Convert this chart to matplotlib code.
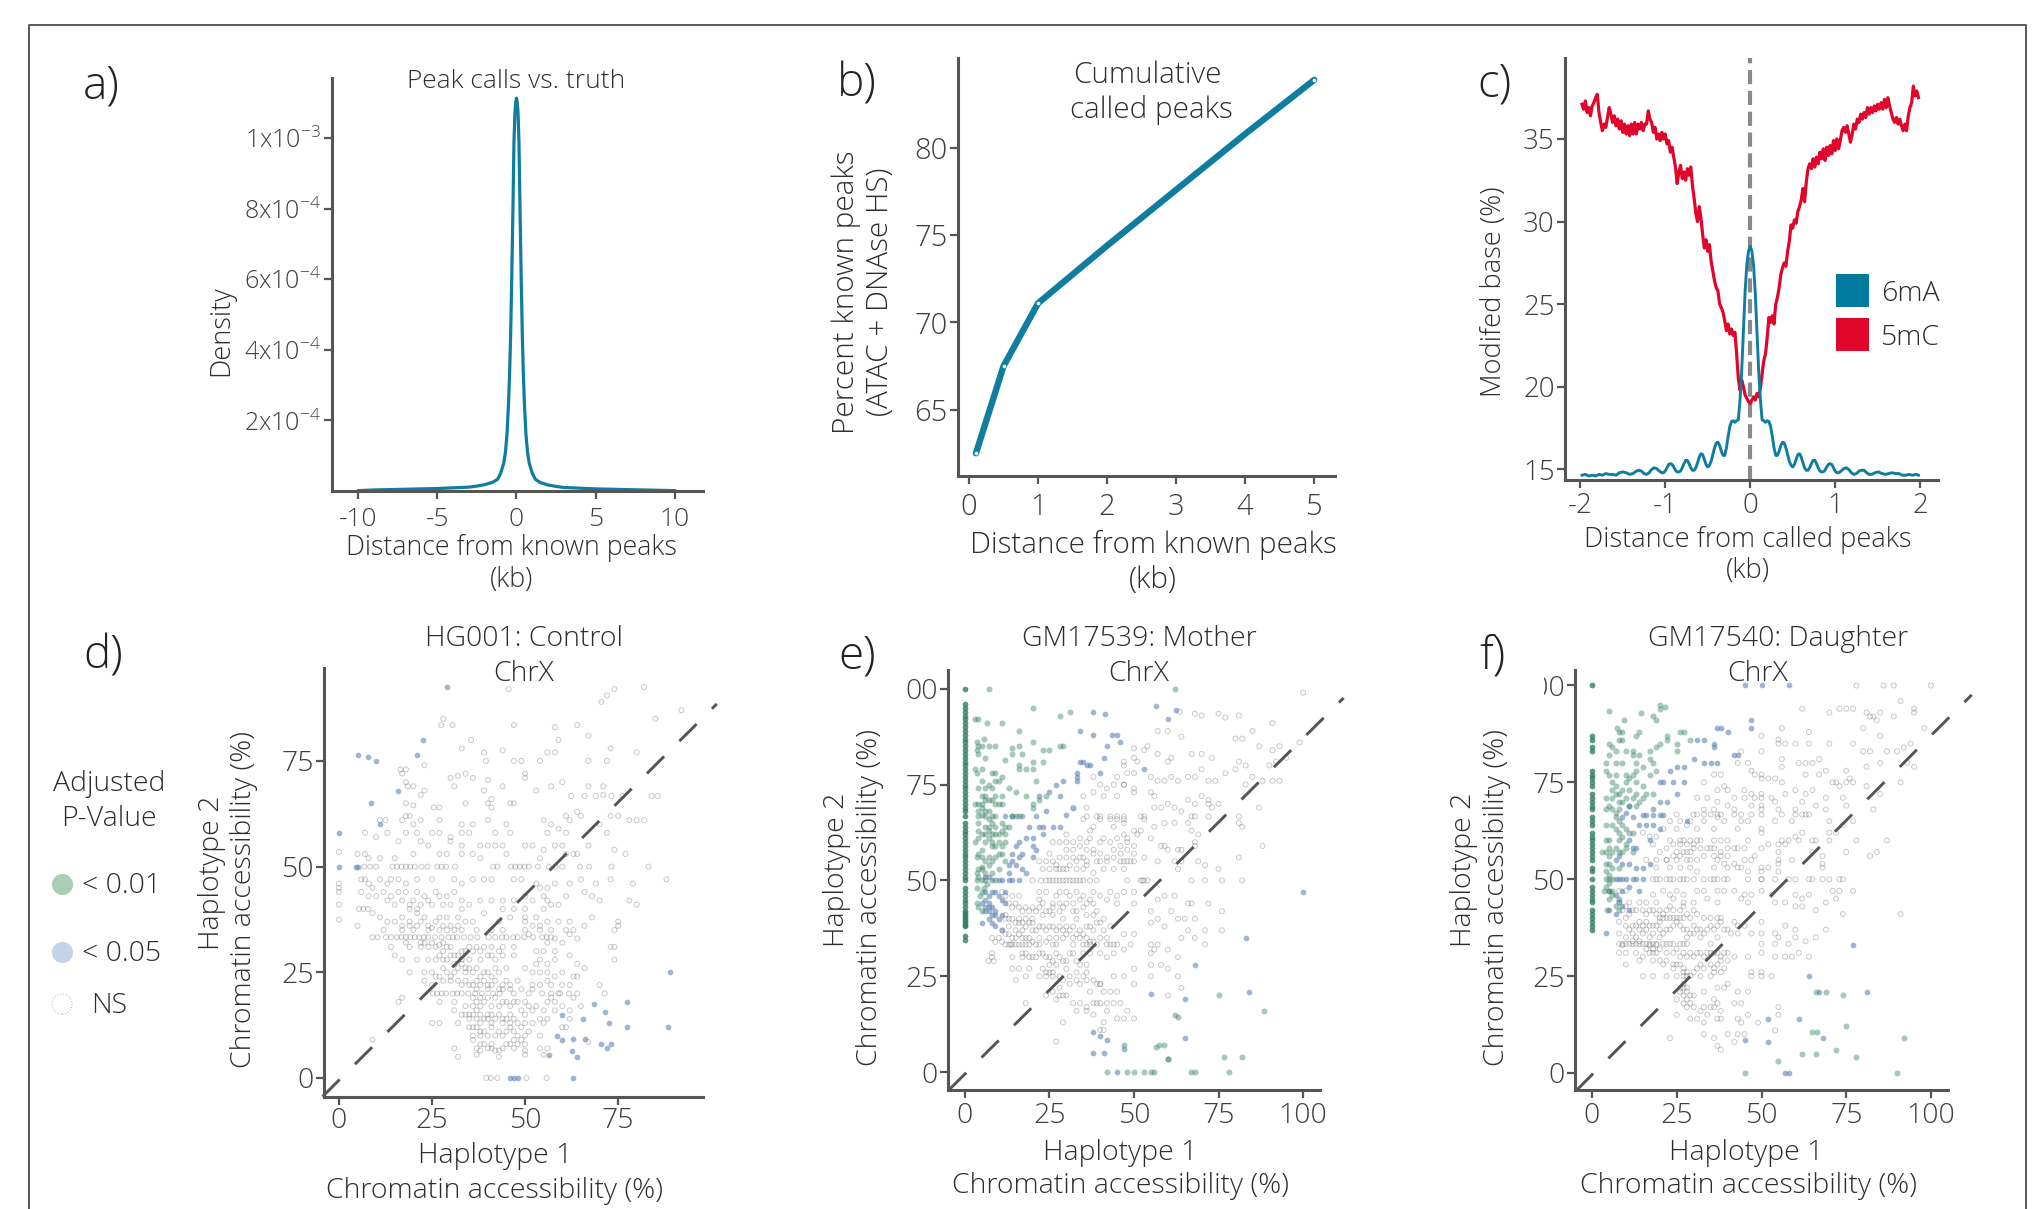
'''
plot.py
Peak calling summary panels and haplotype accessibility scatters
'''

# IMPORTS
import numpy as np
import matplotlib
matplotlib.use('Agg')
import matplotlib.pyplot as plt
from matplotlib.patches import Rectangle

# DATA
# a) density of distance to known peaks
a_x = [-10,-9,-8,-7,-6,-5,-4,-3,-2.5,-2,-1.5,-1.2,-1,-.8,-.7,-.6,-.5,-.43,-.37,-.3,-.22,-.16,-.1,-.05,0,
       .05,.1,.16,.22,.3,.37,.43,.5,.6,.7,.8,1,1.2,1.5,2,2.5,3,4,5,6,7,8,9,10]
a_y = [1,3,4,5,6,7,9,11,14,18,25,33,50,80,110,160,250,340,440,600,810,985,1070,1100,1113,
       1100,1070,985,810,600,440,340,250,160,110,80,50,33,24,17,13,10,8,6,5,4,3,2,1]
a_yticks = [200e-6, 400e-6, 600e-6, 800e-6, 1000e-6]
a_yticklabels = ['2x10$^{\\mathregular{-4}}$', '4x10$^{\\mathregular{-4}}$', '6x10$^{\\mathregular{-4}}$',
                 '8x10$^{\\mathregular{-4}}$', '1x10$^{\\mathregular{-3}}$']

# b) cumulative called peaks
b_x = [0.1, 0.5, 1, 2, 3, 4, 5]
b_y = [62.5, 67.5, 71.1, 74.4, 77.6, 80.8, 83.9]
b_dots_x = [0.1, 0.5, 1, 5]
b_dots_y = [62.5, 67.5, 71.1, 83.9]

# c) modified base around called peaks
c_5mc_x = [-1.98,-1.96,-1.94,-1.92,-1.90,-1.88,-1.86,-1.84,-1.82,-1.80,
           -1.78,-1.76,-1.74,-1.72,-1.70,-1.68,-1.66,-1.64,-1.62,-1.60,
           -1.58,-1.56,-1.54,-1.52,-1.50,-1.48,-1.46,-1.44,-1.42,-1.40,
           -1.38,-1.36,-1.34,-1.32,-1.30,-1.28,-1.26,-1.24,-1.22,-1.20,
           -1.18,-1.16,-1.14,-1.12,-1.10,-1.08,-1.06,-1.04,-1.02,-1.00,
           -.98,-.96,-.94,-.92,-.90,-.88,-.86,-.84,-.82,-.80,
           -.78,-.76,-.74,-.72,-.70,-.68,-.66,-.64,-.62,-.60,
           -.58,-.56,-.54,-.52,-.50,-.48,-.46,-.44,-.42,-.40,
           -.38,-.36,-.34,-.32,-.30,-.28,-.26,-.24,-.22,-.20,
           -.18,-.16,-.14,-.12,-.10,-.08,-.06,-.04,-.02,0,
           .02,.04,.06,.08,.10,.12,.14,.16,.18,.20,
           .22,.24,.26,.28,.30,.32,.34,.36,.38,.40,
           .42,.44,.46,.48,.50,.52,.54,.56,.58,.60,
           .62,.64,.66,.68,.70,.72,.74,.76,.78,.80,
           .82,.84,.86,.88,.90,.92,.94,.96,.98,1.00,
           1.02,1.04,1.06,1.08,1.10,1.12,1.14,1.16,1.18,1.20,
           1.22,1.24,1.26,1.28,1.30,1.32,1.34,1.36,1.38,1.40,
           1.42,1.44,1.46,1.48,1.50,1.52,1.54,1.56,1.58,1.60,
           1.62,1.64,1.66,1.68,1.70,1.72,1.74,1.76,1.78,1.80,
           1.82,1.84,1.86,1.88,1.90,1.92,1.94,1.96,1.98]
c_5mc_y = [37.1,36.8,37.3,36.6,36.9,36.4,37.0,37.2,37.5,37.7,
           36.6,36.0,35.5,35.9,35.7,36.3,36.9,36.5,36.0,36.4,
           35.8,36.2,35.6,36.1,35.4,35.9,35.3,35.8,35.2,35.9,
           35.3,36.0,35.3,35.9,35.6,36.0,35.5,35.9,35.9,36.7,
           36.2,36.0,35.4,35.7,35.0,35.3,34.9,35.4,35.0,35.3,
           34.7,34.9,34.2,34.5,33.9,33.3,32.3,33.0,33.4,32.6,
           33.0,32.5,33.2,32.8,33.3,32.2,31.4,30.5,30.0,30.9,
           30.2,29.2,28.4,28.9,28.2,28.6,27.6,27.0,26.4,26.0,
           25.8,25.0,24.8,24.5,24.0,23.4,23.8,23.2,23.5,23.1,
           23.3,22.0,20.5,19.8,20.4,20.0,19.5,19.3,19.1,19.0,
           19.2,19.4,19.2,19.6,19.4,19.9,20.8,21.6,22.0,23.0,
           24.2,23.9,24.3,23.8,25.0,25.4,26.0,26.8,27.2,27.5,
           27.3,28.2,28.8,29.8,29.6,30.1,29.9,30.6,30.9,31.3,
           32.0,31.2,32.4,33.2,33.5,33.2,33.8,33.3,33.9,33.5,
           34.2,33.8,34.4,33.7,34.5,34.0,34.6,34.1,34.9,34.3,
           35.0,34.4,34.9,35.5,35.7,35.4,35.8,35.3,34.8,35.3,
           35.9,35.6,36.2,36.0,36.5,36.2,36.6,36.3,36.9,36.5,
           36.9,36.6,37.0,36.7,37.1,36.8,37.2,36.8,37.4,36.9,
           37.5,37.0,36.6,36.2,36.0,36.3,35.9,36.2,35.8,35.5,
           35.9,35.5,36.4,36.9,37.2,38.2,37.6,37.9,37.5]
c_6ma = [(-1.98,14.65),(-1.94,14.7),(-1.9,14.6),(-1.86,14.65),(-1.82,14.6),(-1.78,14.7),(-1.74,14.65),(-1.7,14.75),(-1.66,14.7),
         (-1.62,14.7),(-1.58,14.65),(-1.54,14.8),(-1.5,14.85),(-1.46,14.8),(-1.42,14.7),(-1.38,14.75),(-1.34,14.9),(-1.31,14.95),
         (-1.28,14.9),(-1.25,14.75),(-1.22,14.7),(-1.19,14.8),(-1.16,15.0),(-1.13,15.1),(-1.1,15.05),(-1.07,14.9),(-1.04,14.8),
         (-1.02,14.8),(-1.0,14.9),(-.98,15.1),(-.96,15.3),(-.94,15.35),(-.92,15.3),(-.9,15.15),(-.88,14.95),(-.86,14.85),(-.84,14.85),
         (-.82,14.9),(-.8,15.1),(-.78,15.35),(-.76,15.55),(-.74,15.55),(-.72,15.35),(-.7,15.1),(-.68,14.95),(-.66,14.95),(-.64,15.1),
         (-.62,15.4),(-.6,15.75),(-.58,15.95),(-.56,15.9),(-.54,15.6),(-.52,15.3),(-.5,15.15),(-.48,15.25),(-.46,15.5),(-.44,15.9),
         (-.42,16.3),(-.4,16.6),(-.38,16.65),(-.36,16.45),(-.34,16.1),(-.32,15.85),(-.3,15.85),(-.28,16.3),(-.26,17.0),(-.24,17.6),
         (-.22,17.9),(-.2,17.95),(-.18,17.85),(-.16,17.95),(-.14,18.0),(-.12,19.2),(-.1,21.0),(-.08,23.4),(-.06,25.8),(-.04,27.4),
         (-.02,28.2),(0,28.5),(.02,28.2),(.04,27.3),(.06,25.6),(.08,23.2),(.1,20.9),(.12,19.2),(.14,18.0),(.16,17.95),(.18,17.85),
         (.2,17.95),(.22,17.9),(.24,17.6),(.26,17.0),(.28,16.3),(.3,15.85),(.32,15.85),(.34,16.1),(.36,16.45),(.38,16.65),(.4,16.6),
         (.42,16.3),(.44,15.9),(.46,15.5),(.48,15.25),(.5,15.15),(.52,15.3),(.54,15.6),(.56,15.9),(.58,15.95),(.6,15.75),(.62,15.4),
         (.64,15.1),(.66,14.95),(.68,14.95),(.7,15.1),(.72,15.35),(.74,15.55),(.76,15.55),(.78,15.35),(.8,15.1),(.82,14.9),(.84,14.85),
         (.86,14.85),(.88,14.95),(.9,15.15),(.92,15.3),(.94,15.35),(.96,15.3),(.98,15.1),(1.0,14.9),(1.02,14.8),(1.04,14.8),(1.07,14.9),
         (1.1,15.05),(1.13,15.1),(1.16,15.0),(1.19,14.8),(1.22,14.7),(1.25,14.75),(1.28,14.9),(1.31,14.95),(1.34,14.95),(1.37,14.8),
         (1.4,14.7),(1.43,14.7),(1.47,14.8),(1.51,14.85),(1.55,14.75),(1.59,14.7),(1.63,14.75),(1.67,14.8),(1.71,14.75),(1.75,14.75),
         (1.79,14.65),(1.83,14.65),(1.87,14.7),(1.91,14.65),(1.95,14.7),(1.98,14.65)]

# d) HG001 points, rows first because counts give repeated levels
d_rows_y = [50, 33.3, 20, 66.7, 0, 40]
d_rows_x = [[6.8,8.4,10,14.4,15.6,16.8,18,19.2,20.4,22.2,23.8,26.4,27.6,28.8,31.2,41.4,42.6,46.2,47.4,48.6,49.8,51,53.4,56.4,58.2,60,64.8,67.2,73.2,83.2],
            [9,10.4,12.6,14,15.6,16.8,18,19.2,20.4,21.6,22.8,24,25.8,27.6,29.4,30.6,31.8,33.6,35.4,37.2,40.2,42,43.8,45,46.8,48,49.8,52.2,54.6,55.8,57],
            [25.2,26.4,27.6,28.8,30.6,31.8,33,34.8,36.6,38.4,41.4,43.2,54.6,57,59.4,61.8,71.4],
            [62.4,66,69,73.2,76.2,84,85.6],
            [39.6,40.8,42.6,50.4,55.8],
            [5.4,6.6,7.8,19,21,33,44,47,50]]
d_ns = [(45.6,92),(70.5,89),(72,90.5),(74,92),(82,92.5),(92,87),(85,85),(28,85),(27.5,83.5),(30.5,83.5),(47,83.5),(64,83.5),
        (58,83),(35.5,80),(59,80),(67,81),(18,70),(17,72),(33,78),(39,77),(44,77.5),(39.5,75),(47,75),(49,75),(54,75),(67,75),
        (72,75),(73,78),(80,77),(56,77),(58,77),(23,74),(16.5,73),(18,73),(18.5,69),(20,69),(23,68),(30,71),(32,71.5),(34,72),
        (36,71),(40,70.5),(50,72),(50,71),(53,68),(57,69),(67,69),(71,69),(71,67),(60,70),(44,69),(39,68),(31,69),(22,67),
        (18,65),(20,64.5),(25.5,64),(27,64),(34,65),(40,65),(41,64),(41,66),(46,65),(47,65),(61,62),(64,63),(73,62),(75,62),
        (78,61),(80,61),(82,61),(11,61),(12.5,61),(17,61),(18,62),(19,62),(22,61),(27,61),(33,60),(36,60),(40,61),(45,60),
        (55,61),(57,60),(62,61),(65,62),(70,60),(13,58),(18,58),(20,60),(21,58),(25,58),(27,58),(30,57),(33,58),(35,58),
        (42,58),(46,58),(56,58),(59,59),(61,58),(72,58),(7,58),(10,57),(16,56),(22,56),(24,55),(30,56),(33,55),(38,55),
        (40,55),(42,55),(44,55),(50,55),(52,55),(55,54),(58,55),(60,55),(64,53),(67,55),(74,54),(77,53),(0,53.5),(5,53),
        (7,53),(8,52),(11,52),(15,52),(20,53),(27,53),(29,53),(33,53),(36,53),(38,52),(45,53),(54,52),(61,53),(63,53),(0,46),
        (0,45),(0,44),(0,41),(0,37.5),(6,47),(7,47),(8,46),(9,45),(11,47),(13,46),(14,47),(16,47),(18,46),(21,47),(25,47),
        (31,47),(33,46),(36,47),(39,47),(41,47),(47,47),(49,47),(53,46),(58,46),(62,46),(65,47),(69,46),(73,47),(79,46),(88,47),
        (6,44),(8,43),(10,43),(13,42),(15,41),(18,44),(21,44),(22,41),(24,42),(27,43),(31,44),(33,42),(35,41),(38,42),(41,42),
        (44,42),(47,42),(50,43),(55,43),(56,42),(61,43),(66,44),(68,43),(70,42),(78,42),(80,41),(9,39),(11,38),(13,37),(15,37),
        (17,38),(19,37),(21,39),(23,38),(26,37),(29,38),(32,38),(36,37),(39,39),(43,37),(46,38),(50,38),(50,37),(54,36),(56,37),
        (59,37),(62,37),(66,36),(68,38),(75,37),(75,36),(74,35),(5,36),(12,35),(17,35),(20,35),(24,35),(27,35),(29,35),(33,35),
        (37,35),(41,35),(44,35),(54,35),(57,35),(61,35),(63,35),(14,31),(18,32),(19,31),(22,31),(26,31),(28,30),(30,31),(33,30),
        (35,31),(39,31),(43,30),(47,31),(53,30),(58,30),(62,29),(74,31),(73,31),(15,29),(17,28),(21,28),(24,28),(28,28),(31,27),
        (35,28),(38,28),(41,29),(44,29),(47,29),(53,27),(56,27),(58,28),(64,27),(74,28),(19,25),(23,25),(25,25),(29,25),(34,25),
        (36,25),(39,25),(43,25),(54,25),(56,25),(60,25),(64,24),(66,26),(23,23),(25,22),(30,23),(32,23),(35,22),(39,23),(42,23),
        (45,23),(48,23),(52,22),(54,22),(57,22),(63,24),(70,22),(37,21),(40,21),(44,21),(46,21),(17,19),(16,18),(27,18),(31,18),
        (34,17),(36,17),(38,17),(41,17),(44,18),(50,18),(53,17),(55,16),(58,16),(62,16),(31,16),(33,15),(35,15),(37,14),(40,15),
        (43,15),(46,15),(50,15),(54,14),(56,14),(62,14),(25,13),(27,13),(32,13),(35,12),(38,13),(41,13),(44,13),(46,13),(48,13),
        (52,13),(55,13),(60,12),(61,12),(36,10),(38,11),(41,12),(45,11),(48,10),(54,10),(9,9),(36,9),(38,8),(41,8),(46,8),(48,8),
        (50,8),(67,8.5),(31,7),(37,7),(38,6.5),(42,6.5),(43,6.5),(47,7),(50,6.5),(50,5.5),(54,7),(56,7),(32,5),(37,5.5),(43,5),(55,5.5),
        (12,44),(14,43),(16,44),(17,42),(19,41),(20,42),(23,43),(25,41),(26,44),(28,41),(29,43),(30,41),(17,36),(19,36),(21,36),(22,37),
        (24,36),(25,35.5),(27,38),(28,36),(30,36),(31,35),(32,36),(34,37),(22,32),(23,32),(24,31),(25,32),(27,31.5),(28,32),(29,31),(31,29),
        (32,29),(33,28),(34,30),(36,30),(37,31),(38,30),(40,29),(41,31),(42,28),(44,31),(26,28),(27,29),(28,26),(29,28),(30,29),(32,26),
        (33,27),(34,26),(35,26),(37,26),(38,24),(40,25),(41,24),(42,26),(45,26),(26,24),(27,24),(28,23),(30,24),(31,25),(33,22),(34,23),
        (36,22),(37,23),(38,22),(40,22),(41,22),(43,21),(44,22),(46,22),(47,20),(49,21),(51,20),(52,21),(36,19),(37,18),(38,19),(39,18),
        (40,19),(42,19),(43,17),(45,18),(46,17),(47,18),(48,18),(49,16),(51,17),(52,16),(34,15),(35,14),(36,15),(37,16),(38,15),(39,14),
        (40,14),(41,15),(42,14),(44,14),(45,14),(46,12),(47,14),(49,12),(50,13),(36,12),(37,12),(38,10),(39,11),(40,10),(42,10),(43,11),
        (44,10),(47,11),(49,9),(50,10),(39,8),(40,7),(41,7),(44,7),(45,8),(47,9),(51,11),(56,18),(57,19),(58,18),(59,20),(60,17),(63,19),
        (65,17),(56,23),(58,24),(60,22),(62,22),(64,20),(50,26),(52,25),(54,28),(55,30),(56,32),(58,33),(60,32),(62,34),(64,33),(50,35),
        (51,34),(52,36),(53,38),(55,40),(57,41),(59,41),(52,42),(54,45),(56,45)]
d_sig05 = [(29,92.5),(22.5,80),(5,76.5),(7.8,76),(10,75),(21,76.5),(16,68),(8.5,65),(11,60),(0,58),(0,50),(4.5,50),(5,50),
           (89,25),(68.5,17.5),(77.5,18),(71.5,15.5),(60,15),(65.5,14),(72.5,13),(77.5,12),(88.5,12),(58.5,10),(60,9),(63,9.3),
           (66,9.3),(62.5,6.5),(70.5,8),(72,7),(73,8),(56.5,5.5),(64,5),(46,0),(47,0),(48,0),(63,0)]

# e) GM17539 points
e_col0_y = [34.5,35.5,38,38.5,39,39.5,40,40.5,41,41.5,42,43,44,45,46,47,48,50,51,52,53,54,55,56,57,58,59,60,61,62,63,64,65,66.7,68,69,
            70,71,72,73,74,75,76,77,78,79,80,81,82,83,84,85,86,87,88,89,90,91,92,93,94,95,96,100]
e_rows_y = [50, 33.3, 66.7]
e_rows_x = [[20,22.5,24,25,26,27,28,29,30,31,32,33,34,35,37,39,48,52,52.5,53,54,67,71,76,82],
            [12,13,13.5,14,15,16,17,18,19,21,22,26,27,32,35,36,37,39,42,43,44,45,49,55,57,71],
            [36,39,40,43,45,47,52,53,67,68,72,81]]
e_ns = [(100,99),(68,93.5),(63.5,94),(70,93),(75,93.5),(77,92.5),(81,93),(91,91),(60,89),(57,89),(85,89),(82,87),(80,87),(64,87.5),
        (99,86),(50,84.5),(53,84),(54,85),(57,83),(61,82),(91,84),(87,85),(93,85),(95,82),(67,83),(70,83),(73,82),(81,81),(83,80),
        (50,82),(47,81),(47,80),(51,81),(60,81),(90,80),(92,81),(80,79),(77,78),(70,79),(50,78),(48,78),(47,75),(38,77),(40,75),
        (45,77),(55,77),(57,76),(59,76),(61,77),(63,76),(66,77),(68,77),(72,76),(74,76),(83,75),(85,77),(88,76),(91,76),(93,76),
        (42,74),(44,75),(47,75),(50,74),(50,73),(55,73),(56,72),(38,73),(41,72),(45,72),(35,72),(70,72),(72,71),(66,71),(73,69),
        (75,70),(87,69),(32,69),(36,69),(56,69),(58,69),(60,70),(62,69),(64,68),(68,70),(72,70),(35,66),(40,66),(43,66),(45,66),
        (47,66),(53,66),(59,65),(62,65),(66,65),(81,65),(82,64),(44,64),(47,65),(50,63),(52,63),(56,64),(30,62),(37,63),(38,64),
        (34,61),(37,61),(41,61),(45,61),(48,61),(51,62),(55,61),(67,63),(69,62),(32,60),(30,60),(36,60),(40,60),(43,60),(46,59),
        (50,59),(50,57),(50,55),(58,59),(59,59),(60,58),(63,58),(64,58),(68,60),(68,59),(88,59),(25,57),(28,56),(30,56),(33,55),
        (36,55),(39,55),(42,55),(47,55),(49,55),(53,56),(57,55),(62,55),(64,55),(69,55),(71,54),(81,56),(23,53),(25,53),(27,53),
        (29,53),(33,53),(35,53),(38,52),(41,53),(44,53),(47,53),(63,53),(75,53),(47,47),(50,47),(22,47),(24,47),(28,47),(30,47),
        (33,47),(38,47),(40,46),(43,47),(45,46),(57,45),(59,46),(62,46),(66,44),(67,44),(72,44),(14,46),(16,46),(22,45),(26,43),
        (28,44),(32,44),(35,43),(39,42),(42,45),(45,44),(50,44),(55,42),(61,42),(76,42),(12,41),(14,40),(16,40),(18,40),(20,40),
        (23,41),(26,41),(29,40),(33,40),(36,41),(38,41),(41,40),(55,39),(57,40),(63,40),(65,40),(68,40),(13,38),(15,37),(17,37),
        (20,37),(24,37),(27,37),(29,37),(32,38),(35,36),(38,37),(41,37),(43,38),(47,36),(50,36),(59,38),(66,37),(71,37),(76,37),
        (8,35),(9,34),(14,35),(18,35),(22,35),(25,35),(36,35),(40,35),(42,35),(64,35),(68,35),(8,31),(8,30),(7,29),(8.5,29),
        (14,30),(17,30),(20,30),(23,31),(27,31),(31,31),(32,31),(35,31),(47,32),(56,32),(55,31),(60,32),(63,30),(14,27),(16,27),
        (19,27),(23,27),(25,28),(27,28),(30,27),(34,28),(36,28),(50,27),(55,28),(58,28),(60,27),(15,24),(18,25),(22,25),(24,25),
        (26,25),(33,24),(36,24),(40,23),(44,25),(47,25),(50,23),(55,25),(63,25),(64,22),(28,22),(31,23),(34,23),(37,21),(40,23),
        (45,21),(24,20),(27,19),(29,20),(42,18),(40,18),(44,18),(46,18),(60,20),(18,18),(33,16),(36,17),(38,15),(42,16),(48,16),
        (45,14),(47,14),(50,14),(29,13),(41,13),(40,11),(41,11),(27,8),
        (11,47),(12,46),(13,44),(14,43),(15,44),(16,43),(17,42),(18,43),(19,42),(20,43),(21,42),(22,43),(23,44),(24,42),(25,42),(26,44),
        (27,46),(28,42),(29,43),(30,44),(31,46),(32,42),(33,42),(34,45),(35,46),(36,44),(37,45),(38,44),(12,40),(13,40),(15,39),(16,39),
        (17,39),(18,38),(19,39),(20,39),(21,37),(22,38),(23,38),(25,38),(26,38),(28,38),(30,38),(31,37),(33,36),(34,37),(36,38),(37,38),
        (39,39),(40,39),(11,37),(12,36),(10,35),(11,34),(13,36),(15,35),(16,36),(17,35),(19,35),(20,34),(24,34),(27,35),(29,35),(30,36),
        (32,35),(34,35),(37,34),(38,34),(17,31),(18,31),(19,30),(21,30),(22,31),(24,30),(25,30),(26,29),(28,30),(29,29),(30,29),(33,29),
        (37,31),(40,31),(42,30),(44,31),(24,26),(25,26),(26,26),(28,25),(29,24),(31,25),(33,26),(35,25),(36,26),(38,24),(39,23),(41,21),
        (43,21),(26,21),(28,20),(30,20),(32,18),(34,18),(36,16),(38,18),(39,18),(22,55),(24,55),(26,55),(27,54),(28,53),(30,53),(31,54),
        (32,56),(34,56),(35,56),(36,54),(38,57),(40,55),(42,56),(44,56),(46,55),(48,55),(26,60),(28,60),(30,58),(32,58),(34,59),(36,58),
        (38,58),(40,57),(44,58),(46,57),(48,58),(48,60),(47,62)]
e_sig01 = [(7,100),(62,100),(20,95),(28,93),(31,94),(3,92),(4,92),(11,91),(6.5,91),(16,89),(20,86),(5.5,87),(3.5,86),(4,85),(5,85),
           (7,85),(9,85),(14,84.5),(16,85),(3.5,84),(14,83),(17,83),(23,84),(25,84),(28,85),(29,85),(4,83),(6,82),(12,81.5),(16,80),
           (20,81),(23,81),(3,79),(5,79),(8,78),(16,79),(18,79),(20,79),(3.5,78),(9,78),(11,77),(5,76),(10,76),(21,76),(7,75),(13,74),
           (5,72),(6,72),(9,72),(11,72),(15,73),(18,72),(20,69),(24,72),(22,71),(5,69),(6,68),(7,68),(10,70),(11,70),(20,70),(4,66.7),
           (6,66.7),(8,66.7),(9,66.7),(14,66.7),(15,66.7),(16,66.7),(4,65),(6,64),(7,64),(9,64),(11,65),(4,63),(7,63),(8,62),(12,62),
           (6,60),(8,60),(12,60),(5,58),(11,59),(4,57),(10,57),(3.5,56),(5,56),(9,56),(12,55),(4,53),(5,53),(6,52),(3.5,52),(8,52),
           (10,53),(3.5,50),(5,50),(6,50),(9,50),(3.5,48),(5,47),(4,43),(5,42),(60,3.5),(62,15),(63,14.5),(75,20),(88.5,16),(56.5,6.5),
           (57.5,7),(59,7),(60,3.5),(76.5,4),(82,4),(42,0),(48,0),(50,0),(53,0),(55,0),(56,0),(67,0),(68,0),(78,0),(47,7),
           (3,60),(4,61),(5,62),(6,62),(7,61),(8,59),(9,59),(10,60),(11,57),(7,56),(6,55),(8,55),(7,54),(5,53.5),(4,51),(3.5,44),(4.5,46),
           (5.5,48),(6.5,49),(3,70),(4,70),(5,70),(6,71),(7,71),(8,71),(9,70),(4,74),(6,74),(8,74),(9,76),(4,68),(5,67),(7,66),(8,65),
           (9,62),(10,62),(11,63),(12,64),(13,64)]
e_sig05 = [(56.5,95.5),(62.5,94.5),(38,94),(41.5,93.5),(60,92),(38,88),(34,89),(43.5,88),(45,88),(46,86),(42,85),(41,82),(35,81),
           (34,81),(36,80),(37,80),(53,79),(33,78),(33,77),(33,76),(40,78),(29,76),(27,75),(22,72),(25,73),(28,72),(32,69),(24,68),
           (21,66.7),(17,66.7),(14,66.7),(12,66.7),(19,64),(23,64),(23,62),(26,64),(28,64),(30,67),(15,59),(17,57),(20,59),(21,58),
           (20,56),(14,57),(16,56),(13,54),(15,54),(17,53),(18,52),(6,51),(7,51),(8,50),(10,50),(11,50),(13,50),(14,50),(16,50),(6,47),
           (7,46),(8,47),(6,45),(7,44),(9,47),(10,46),(11,45),(5,44),(6,43),(7,42),(9,41),(11,41),(5,39),(9,38),(11,37),(100,47),(83,35),
           (68,28),(84,21),(55,20.5),(65,19),(40,9.5),(42,8.5),(38,10.5),(47,6),(65,9),(38,5),(41,5),(45,0),
           (6,42),(7,43),(8,43),(8,41),(9,42),(10,40),(7,40),(8,39),(12,44),(12,47),(13,52),(14,55),(16,60),(18,61),(20,61),(22,64)]

# f) GM17540 points
f_col0_y = [37,38,39,40,41,42,44,45,46,47,48,50,52,53,55,56,57,58,59,60,61,62,64,65,66,68,69,70,71,72,74,75,76,77,78,83,84,86,87,100]
f_rows_y = [50, 33.3, 66.7, 40]
f_rows_x = [[18,19,20,22,23,24,26,27,28,30,33,35,36,37,39,40,46,50,50,54,58,60,64,65,68,70,73,74],
            [8,9,10,11,12,13,14,15,16,17,18,19,21,22,23,24,26,27,28,35,50,54,58],
            [25,30,31,33,35,37,38,42,44,47,50,56,60,62,63,64],
            [20,21,22,23,24,25,26,27,33,35,37,38]]
f_ns = [(100,100),(78,100),(86,100),(89,100),(91,96),(95,94),(95,93),(62,94),(70,93),(73,94),(75,94),(77,94),(81,93),(83,92),(85,93),
        (89,92),(82,92),(84,91),(56,89),(64,88),(80,89),(98,89),(85,87),(50,87),(55,86),(57,85),(60,85),(64,85),(70,85),(55,85),(94,85),
        (77,85),(87,83),(90,83),(92,84),(50,83),(80,83),(82,83),(44,83),(56,81),(61,80),(63,80),(65,80),(67,81),(46,80),(43,80),(75,78),
        (81,79),(85,80),(93,80),(95,79),(69,78),(47,78),(48,77),(50,77),(36,77),(38,77),(50,76),(52,76),(54,76),(56,79),(56,75),(63,77),
        (67,77),(72,75),(76,76),(33,75),(37,73),(39,74),(40,73),(45,73),(47,72),(50,72),(50,71),(53,71),(57,72),(60,73),(63,72),(65,73),
        (71,75),(73,74),(75,75),(77,75),(91,75),(81,74),(85,72),(31,71),(34,71),(37,70),(42,71),(45,71),(48,71),(54,70),(62,70),(69,71),
        (74,71),(83,68),(33,68),(36,68),(40,69),(42,68),(47,69),(50,69),(50,68),(55,68),(60,68),(66,69),(69,68),(75,69),(23,65),(26,65),
        (29,65),(33,65),(37,66),(39,65),(44,65),(46,65),(54,65),(59,65),(70,65),(74,64),(77,65),(21,63),(25,63),(28,64),(31,63),(36,63),
        (43,63),(50,63),(50,62),(56,60),(58,60),(60,61),(62,62),(65,60),(70,62),(72,62),(15,62),(17,61),(19,61),(23,60),(24,59),(26,60),
        (27,60),(31,60),(36,60),(43,58),(46,60),(52,59),(55,59),(57,59),(61,60),(66,60),(70,60),(78,60),(87,60),(18,59),(22,58),(25,57),
        (29,57),(32,58),(35,58),(38,57),(40,58),(42,58),(45,58),(50,58),(55,57),(65,57),(68,56),(75,57),(82,56),(84,57),(16,55),(19,55),
        (22,55),(25,55),(28,55),(31,55),(37,55),(39,54),(45,55),(47,55),(55,55),(55,54),(59,55),(68,54),(19,53),(23,53),(26,53),(29,53),
        (31,52),(36,53),(40,53),(43,53),(50,53),(50,52),(52,53),(55,52),(68,53),(8,47),(10,47),(18,46),(21,47),(23,46),(25,47),(27,46),
        (31,47),(33,47),(37,47),(39,47),(42,47),(45,46),(47,46),(50,47),(53,46),(60,46),(62,45),(64,46),(71,47),(73,47),(77,47),(8,44),
        (11,44),(14,44),(16,44),(19,44),(24,45),(27,44),(30,44),(34,45),(37,44),(44,45),(46,44),(54,44),(57,44),(60,43),(62,43),(66,42),
        (69,44),(72,45),(74,41),(91,41),(8,39),(10,38),(12,38),(14,37),(16,39),(18,38),(20,37),(23,37),(27,37),(30,38),(35,38),(38,39),
        (42,39),(45,38),(50,36),(54,36),(57,38),(60,37),(66,35),(69,37),(8,36),(10,35),(13,35),(15,36),(17,35),(20,35),(28,35),(32,35),
        (37,35),(43,36),(47,36),(50,39),(55,35),(60,35),(63,34),(8,31),(10,31),(13,31),(15,30),(17,31),(19,31),(24,31),(28,30),(31,31),
        (35,31),(38,30),(40,29),(46,30),(50,31),(54,30),(57,30),(59,30),(61,31),(64,30),(10,28),(14,29),(21,28),(24,28),(27,27),(32,28),
        (36,27),(39,27),(47,26),(50,26),(50,25),(53,25),(15,25),(18,25),(22,25),(25,25),(27,25),(29,25),(32,25),(35,25),(38,26),(47,25),
        (27,23),(28,22),(26,21),(30,20),(33,21),(37,22),(40,23),(43,21),(46,21),(25,19),(27,18),(28,17),(37,18),(36,19),(42,18),(44,18),
        (55,17),(25,15),(34,15),(38,16),(43,14),(46,15),(55,15),(29,14),(31,14),(33,13),(37,14),(44,13),(49,13),(54,11),(33,10),(36,9),
        (40,10),(43,10),(45,10),(23,9),(37,7),(38,6),(42,8),
        (9,42),(10,43),(11,41),(12,42),(13,42),(15,42),(16,41),(17,42),(18,42),(19,41),(20,42),(21,41),(22,42),(23,43),(24,42),(26,42),
        (27,43),(28,41),(29,40),(30,42),(31,41),(10,40),(11,37),(12,36),(13,38),(14,39),(15,38),(16,37),(17,38),(18,36),(19,38),(20,39),
        (21,36),(22,37),(24,38),(25,39),(26,38),(28,37),(29,36),(30,36),(31,37),(32,37),(33,36),(34,37),(36,37),(37,38),(39,37),(40,37),
        (41,36),(43,38),(9,33),(12,34),(14,34),(16,32),(17,33),(18,32),(18,31),(19,33),(20,32),(22,31),(25,32),(26,30),(27,31),(29,31),
        (30,30),(32,31),(33,30),(34,31),(36,31),(37,31),(38,29),(39,31),(40,31),(42,30),(18,29),(20,29),(22,29),(24,27),(25,28),(26,28),
        (27,26),(28,26),(28,25),(30,26),(31,27),(33,27),(35,28),(36,26),(37,28),(26,22),(27,22),(28,21),(29,20),(27,20),(28,19),(29,18),
        (30,17),(32,16),(33,17),(35,17),(36,17),(38,14),(39,22),(20,57),(22,55),(24,56),(26,56),(27,57),(28,57),(29,55),(30,58),(33,56),
        (36,56),(38,56),(40,56),(42,54),(44,53),(46,52),(48,56),(26,59),(28,59),(29,60),(30,59),(32,60),(34,58),(36,58),(38,60),(40,60)]
f_sig01 = [(20,95),(21.5,94.5),(20,94),(5,93.5),(14.5,93),(19,91),(9.5,91),(18,92),(7.5,89),(8,88),(9,88),(26,88),(27,88),(13,87),(14,88),
           (22,87),(22,86),(8,86),(9,86),(29,86),(5,85),(6,84),(7,83),(10,83),(12,83),(25,85),(25,83),(17,83),(19,84),(20,85),(5,82),
           (12,82),(14,82),(17,81),(4,80),(7,80),(9,80),(13,80),(18,80),(19,78),(4,78),(5,77),(7,77),(10,77),(11,76),(13,75),(15,74),
           (6,75),(7,74),(9,73),(11,73),(16,72),(18,72),(4,71),(6,71),(8,72),(9,70),(15,71),(5,69),(8,68),(11,69),(13,69),(7,66),(8,65),
           (4,64),(6,64),(9,64),(7,63),(10,63),(5,60),(8,60),(10,59),(3,57),(4,57),(5,56),(9,57),(10,58),(12,57),(4,54),(5,54),(6,53),
           (8,53),(4,50),(5,50),(3.5,47),(5,47),(6,47),(5,45),(8,45),(4.5,42),(55,3),(62,5),(66,5),(78,4),(72,6),(75,12),(65,10.5),(66.5,10.5),
           (66,21),(69,21),(74,20),(92,9),(90,0),(45,0),
           (6,73),(7,72),(8,70),(10,71),(12,71),(13,72),(14,70),(4,68),(6,68),(7,67),(8,62),(9,61),(11,62),(12,62),(4,60),(5,58),(6,57),(7,58),
           (8,57),(4,52),(5,51),(6,50),(4,48),(5,49),(6,46),(7,43),(8,42),(12,77),(15,79),(17,77),(10,75),(13,78)]
f_sig05 = [(45,100),(50,100),(58,100),(47,91),(47,89),(37,89),(38,89),(40,88),(31,86),(33,86),(36,85),(36,84),(42,82),(43,82),(30,81),
           (33,80),(35,80),(37,80),(25,79),(23,78),(27,79),(27,75),(24,75),(21,75),(20,75),(25,72),(22,70),(20,70),(18,68),(11,69),(10,67),
           (9,66),(12,66),(15,66.7),(16,66.7),(18,66.7),(20,66.7),(21,66.7),(14,64),(16,64),(18,64),(20,63),(28,65),(17,60),(11,60),(12,58),
           (13,58),(8,56),(7,55),(9,54),(11,54),(13,53),(15,53),(17,54),(7,50),(8,50),(9,50),(10,50),(12,50),(13,50),(15,50),(5,47),(7,46),
           (9,47),(11,48),(14,47),(8,44),(9,43),(5,42),(7,41),(11,42),(4,36),(77,33),(64,25),(81,21),(67,21),(61,14),(52,14),(45,8.5),(52,8),
           (68,9),(57,0),(58,0)]

d_diag_x = [-4.4, 101.5]
d_diag_y = [-4.4, 88.5]
ef_diag_x = [-4.7, 112]
ef_diag_y = [-4.6, 97.6]

# STYLE
W, H = 2039, 1209
plt.rcParams['font.family'] = ['Open Sans', 'DejaVu Sans']
plt.rcParams['font.weight'] = 'light'
TXT = '#2e2e2e'
TICKC = '#3f3f3f'
AXC = '#575553'
TEAL = '#0f7d9f'
RED = '#e0052b'
FS = 20.5
GREEN_DOT = '#2f7f60'
BLUE_DOT = '#5f84b5'

def new_axes(box, xlim, ylim, size=FS, pad=3):
    # box is left, top, right, bottom in image pixels
    l, t, r, b = box
    ax = fig.add_axes([l/W, 1-b/H, (r-l)/W, (b-t)/H])
    ax.set_xlim(xlim)
    ax.set_ylim(ylim)
    ax.patch.set_alpha(0)
    for s in ['top', 'right']:
        ax.spines[s].set_visible(False)
    for s in ['left', 'bottom']:
        ax.spines[s].set_color(AXC)
        ax.spines[s].set_linewidth(2.2)
    ax.tick_params(labelcolor=TICKC, labelsize=size, width=1.6, length=5.5, color=AXC)
    ax.tick_params(axis='x', pad=pad)
    ax.tick_params(axis='y', pad=2)
    return ax

def label(x, y, s, size=FS, rot=0, ha='center', color=TXT):
    fig.text(x/W, 1-(y+3)/H, s, fontsize=size, rotation=rot, ha=ha, va='center', color=color)

def scatter_panel(ax, diag_x, diag_y, rows_y, rows_x, ns, sig05, sig01=None, col0=None):
    nx = [p[0] for p in ns]
    ny = [p[1] for p in ns]
    for yy, xs in zip(rows_y, rows_x):
        nx += list(xs)
        ny += [yy]*len(xs)
    ax.scatter(nx, ny, s=13, facecolors='none', edgecolors='#4a4a4a', alpha=0.3, linewidths=0.7, zorder=3)
    ax.scatter([p[0] for p in sig05], [p[1] for p in sig05], s=17, color=BLUE_DOT, alpha=0.6, linewidths=0, zorder=4)
    if sig01 is not None:
        ax.scatter([p[0] for p in sig01], [p[1] for p in sig01], s=19, color=GREEN_DOT, alpha=0.42, linewidths=0, zorder=4)
    if col0 is not None:
        ax.scatter(np.zeros(len(col0)), col0, s=17, color=GREEN_DOT, alpha=0.8, linewidths=0, zorder=4)
    ax.plot(diag_x, diag_y, color=AXC, lw=2.1, clip_on=False, zorder=5,
            dashes=(8.3, 7.4), dash_capstyle='butt')

# EXECUTION
fig = plt.figure(figsize=(W/100, H/100), dpi=100)

# Outer frame, bottom edge runs off the picture
fig.add_artist(plt.Line2D([29/W, 29/W, 2026/W, 2026/W], [0, 1-25/H, 1-25/H, 0], color='#585858', lw=1.4))

# a)
ax = new_axes((332, 78, 703, 491), (-11.67, 11.8), (0, 1170e-6), size=19, pad=6)
ax.plot(a_x, np.array(a_y)*1e-6, color=TEAL, lw=2.3)
ax.set_xticks([-10, -5, 0, 5, 10])
ax.set_xticklabels(['-10', '-5', '0', '5', '10'])
ax.set_yticks(a_yticks)
ax.set_yticklabels(a_yticklabels, fontsize=18)
label(516, 78, 'Peak calls vs. truth', size=19)
label(221, 328, 'Density', size=19.5, rot=90)
label(511, 545, 'Distance from known peaks', size=19.3)
label(511, 577, '(kb)', size=19.3)
label(101, 83, 'a)', size=33, color='#222222')

# b)
ax = new_axes((958, 58, 1335, 476), (-0.16, 5.3), (61.2, 85.15), size=21, pad=6.5)
ax.plot(b_x, b_y, color=TEAL, lw=4.6, solid_capstyle='round')
ax.scatter(b_dots_x, b_dots_y, s=7, color='white', linewidths=0, zorder=4)
ax.set_xticks([0, 1, 2, 3, 4, 5])
ax.set_yticks([65, 70, 75, 80])
label(1147, 72, 'Cumulative', size=21.3)
label(1151, 107, 'called peaks', size=21.3)
label(846, 289, 'Percent known peaks', size=21.3, rot=90)
label(880, 289, '(ATAC + DNAse HS)', size=21.3, rot=90)
label(1153, 542, 'Distance from known peaks', size=21.3)
label(1153, 577, '(kb)', size=21.3)
label(857, 81, 'b)', size=33, color='#222222')

# c)
ax = new_axes((1565, 58, 1938, 480), (-2.18, 2.21), (14.36, 39.9), size=20, pad=3)
ax.axvline(0, color='#8a8a8a', lw=3, dashes=(3.4, 1.6), zorder=1)
ax.plot(c_5mc_x, c_5mc_y, color=RED, lw=2.3, zorder=2)
ax.plot([p[0] for p in c_6ma], [p[1] for p in c_6ma], color=TEAL, lw=2.1, zorder=3)
ax.set_xticks([-2, -1, 0, 1, 2])
ax.set_xticklabels(['-2', '-1', '0', '1', '2'])
ax.set_yticks([15, 20, 25, 30, 35])
label(1494, 289, 'Modifed base (%)', size=19.6, rot=90)
label(1748, 537, 'Distance from called peaks', size=19.6)
label(1748, 568, '(kb)', size=19.6)
label(1494, 81, 'c)', size=33, color='#222222')
fig.add_artist(Rectangle((1836/W, 1-307/H), 33/W, 33/H, transform=fig.transFigure, color='#007b9f', lw=0))
fig.add_artist(Rectangle((1836/W, 1-351/H), 33/W, 33/H, transform=fig.transFigure, color=RED, lw=0))
label(1910, 291, '6mA')
label(1910, 335, '5mC')

# d)
ax = new_axes((324, 668, 703, 1097), (-4.0, 97.8), (-4.5, 97.0), pad=1.5)
scatter_panel(ax, d_diag_x, d_diag_y, d_rows_y, d_rows_x, d_ns, d_sig05)
ax.set_xticks([0, 25, 50, 75])
ax.set_yticks([0, 25, 50, 75])
label(524, 636, 'HG001: Control')
label(524, 671, 'ChrX')
label(212, 870, 'Haplotype 2', rot=90)
label(244, 896, 'Chromatin accessibility (%)', rot=90)
label(495, 1153, 'Haplotype 1')
label(495, 1188, 'Chromatin accessibility (%)')
label(103, 654, 'd)', size=33, color='#222222')

# d) legend, sits left of the panel
leg = fig.add_axes([0, 0, 1, 1])
leg.set_xlim(0, W)
leg.set_ylim(H, 0)
leg.axis('off')
leg.scatter([62], [884], s=230, color='#a9ceb6', linewidths=0)
leg.scatter([62], [952], s=230, color='#c4d3e5', linewidths=0)
leg.scatter([62], [1004], s=210, facecolors='none', edgecolors='#bdbdbd', linewidths=0.8, linestyles=':')
label(109, 781, 'Adjusted')
label(109, 816, 'P-Value')
label(82, 883, '< 0.01', ha='left')
label(82, 951, '< 0.05', ha='left')
label(91, 1003, 'NS', ha='left')

# e)
ax = new_axes((948, 670, 1320, 1090), (-5.0, 105), (-4.65, 104.9), pad=3)
scatter_panel(ax, ef_diag_x, ef_diag_y, e_rows_y, e_rows_x, e_ns, e_sig05, e_sig01, e_col0_y)
ax.set_xticks([0, 25, 50, 75, 100])
ax.set_yticks([0, 25, 50, 75, 100])
ax.set_yticklabels(['0', '25', '50', '75', '00'])
label(1139, 636, 'GM17539: Mother')
label(1139, 671, 'ChrX')
label(837, 867, 'Haplotype 2', rot=90)
label(870, 895, 'Chromatin accessibility (%)', rot=90)
label(1120, 1150, 'Haplotype 1')
label(1121, 1183, 'Chromatin accessibility (%)')
label(857, 654, 'e)', size=33, color='#222222')

# f)
ax = new_axes((1575, 670, 1948, 1090), (-5.0, 105), (-4.4, 104), pad=3)
scatter_panel(ax, ef_diag_x, ef_diag_y, f_rows_y, f_rows_x, f_ns, f_sig05, f_sig01, f_col0_y)
ax.set_xticks([0, 25, 50, 75, 100])
ax.set_yticks([0, 25, 50, 75, 100])
label(1778, 636, 'GM17540: Daughter')
label(1758, 671, 'ChrX')
label(1464, 867, 'Haplotype 2', rot=90)
label(1497, 895, 'Chromatin accessibility (%)', rot=90)
label(1746, 1150, 'Haplotype 1')
label(1748, 1183, 'Chromatin accessibility (%)')
label(1492, 654, 'f)', size=33, color='#222222')
# the hundreds digit is cut away in the original
fig.add_artist(Rectangle((1500/W, 1-702/H), 44/W, 30/H, transform=fig.transFigure, color='white', lw=0))

fig.savefig('out.png', dpi=100, facecolor='white')
